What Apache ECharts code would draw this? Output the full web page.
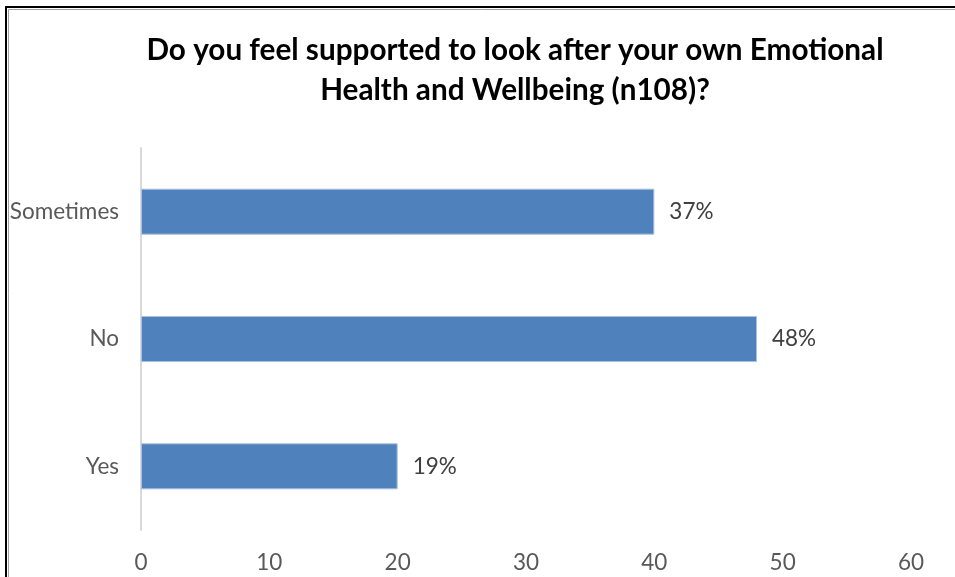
<!DOCTYPE html>
<html>
<head>
<meta charset="utf-8">
<script src="https://cdn.jsdelivr.net/npm/echarts@6/dist/echarts.min.js"></script>
<style>
  html, body { margin: 0; padding: 0; background: #ffffff; }
  #chart { width: 955px; height: 577px; }
</style>
</head>
<body>
<div id="chart"></div>
<script>
// Survey responses (bottom-to-top order on the category axis)
const categories = ['Yes', 'No', 'Sometimes'];
const responseCounts = [20, 48, 40];
const percentLabels = ['19%', '48%', '37%'];
const xTicks = { min: 0, max: 60, interval: 10 };
const chartTitle = 'Do you feel supported to look after your own Emotional\nHealth and Wellbeing (n108)?';

const chart = echarts.init(document.getElementById('chart'), null, { renderer: 'canvas' });

chart.setOption({
  animation: false,
  backgroundColor: '#ffffff',
  title: {
    text: chartTitle,
    left: 510,
    textAlign: 'center',
    top: 25,
    textStyle: {
      fontFamily: 'Lato',
      fontWeight: 'bold',
      fontSize: 29.7,
      lineHeight: 40,
      color: '#000000'
    }
  },
  grid: {
    left: 141,
    right: 44,
    top: 148,
    bottom: 47,
    containLabel: false
  },
  xAxis: {
    type: 'value',
    min: xTicks.min,
    max: xTicks.max,
    interval: xTicks.interval,
    axisLine: { show: false },
    axisTick: { show: false },
    splitLine: { show: false },
    axisLabel: {
      color: '#595959',
      fontFamily: 'Lato',
      fontSize: 22.5,
      margin: 21
    }
  },
  yAxis: {
    type: 'category',
    data: categories,
    axisLine: { show: true, lineStyle: { color: '#d9d9d9', width: 2 } },
    axisTick: { show: false },
    axisLabel: {
      color: '#595959',
      fontFamily: 'Lato',
      fontSize: 22.5,
      margin: 22
    }
  },
  series: [{
    type: 'bar',
    data: responseCounts,
    barWidth: 46,
    itemStyle: { color: '#4f81bd', borderColor: '#a9c0e0', borderWidth: 1 },
    label: {
      show: true,
      position: 'right',
      distance: 15,
      color: '#404040',
      fontFamily: 'Lato',
      fontSize: 22.5,
      formatter: p => percentLabels[p.dataIndex]
    }
  }],
  graphic: [
    {
      type: 'polyline',
      silent: true,
      shape: { points: [[6, 577], [6, 7], [955, 7]] },
      style: { stroke: '#000000', lineWidth: 2, fill: null }
    },
    {
      type: 'polyline',
      silent: true,
      shape: { points: [[8.5, 577], [8.5, 9.5], [955, 9.5]] },
      style: { stroke: '#a0a0a0', lineWidth: 1, fill: null }
    }
  ]
});
</script>
</body>
</html>
